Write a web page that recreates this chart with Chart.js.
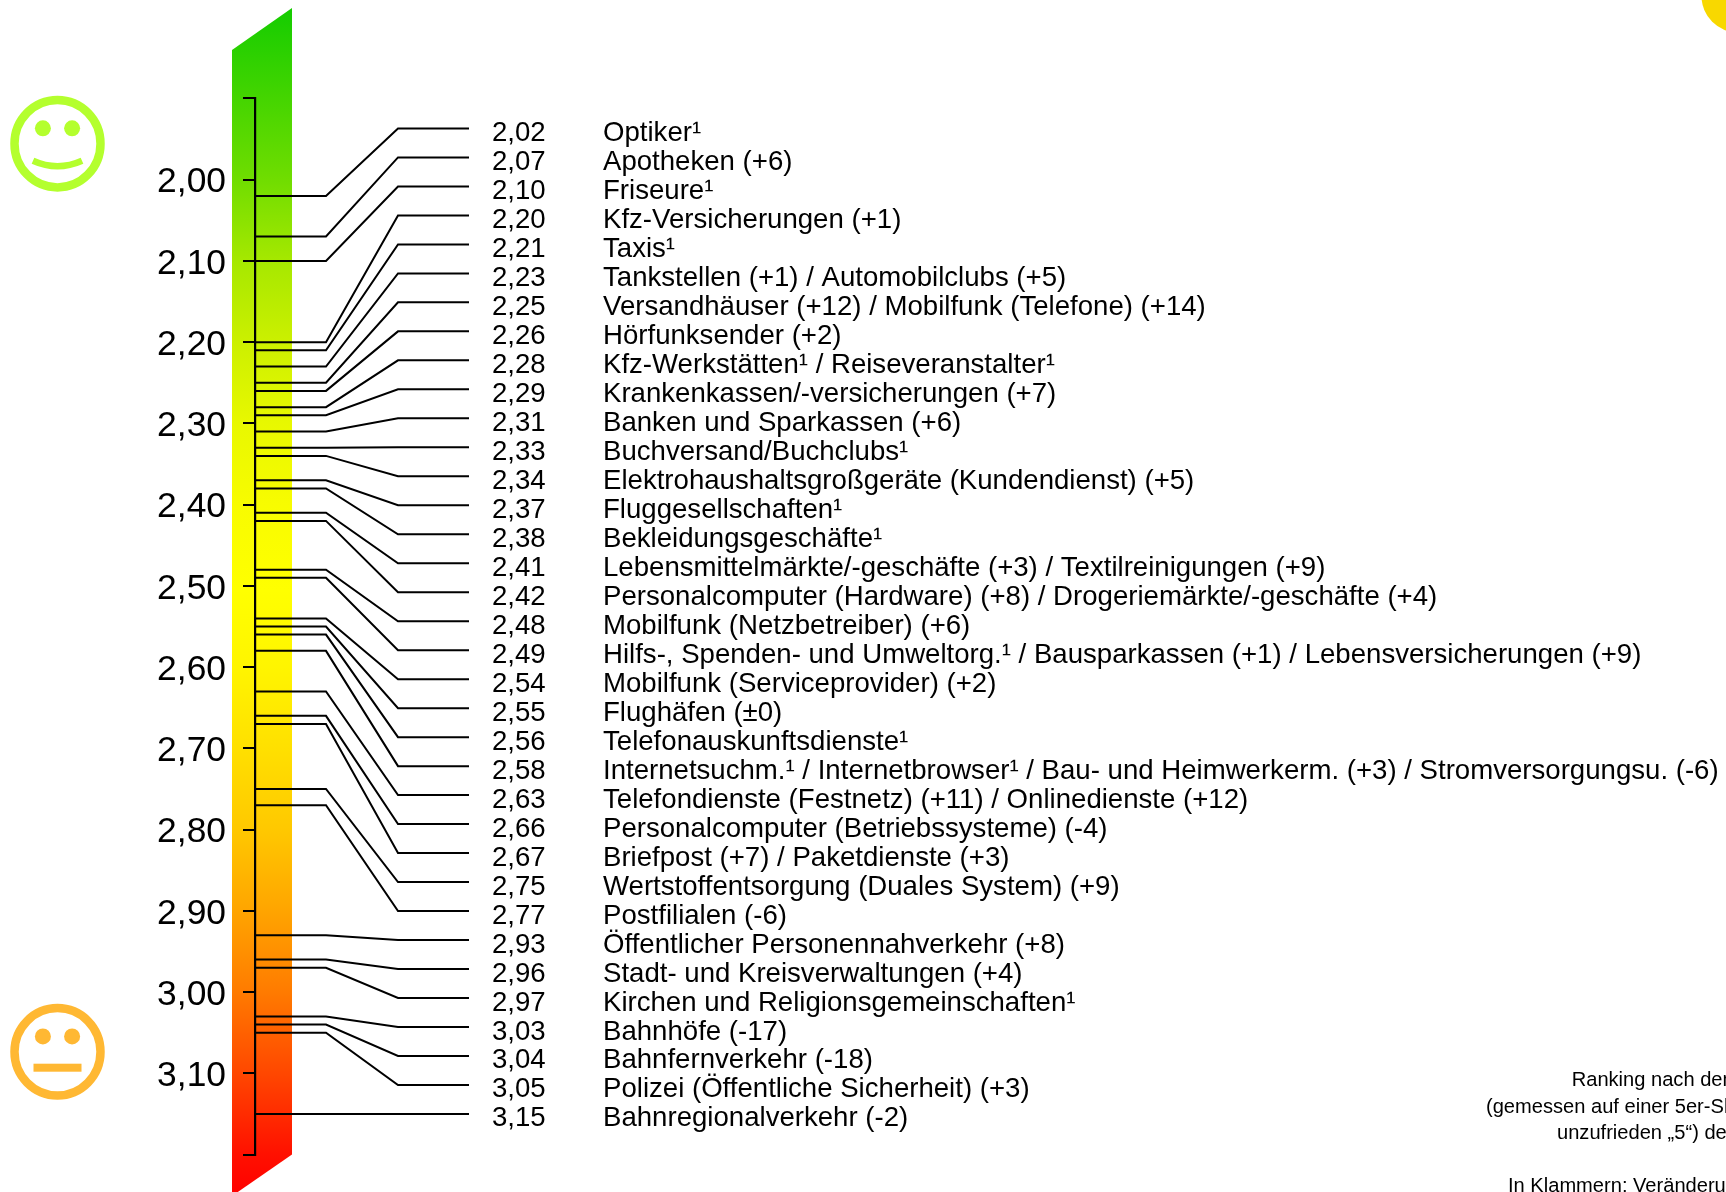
<!DOCTYPE html>
<html lang="de">
<head>
<meta charset="utf-8">
<style>
html,body{margin:0;padding:0;background:#fff;overflow:hidden}
#wrap{position:absolute;left:0;top:0;width:1726px;height:1192px}
</style>
<script src="https://cdn.jsdelivr.net/npm/chart.js@4/dist/chart.umd.js"></script>
</head>
<body>
<div id="wrap"><canvas id="c" width="1726" height="1192"></canvas></div>
<script>
const scores = [2.02,2.07,2.10,2.20,2.21,2.23,2.25,2.26,2.28,2.29,2.31,2.33,2.34,2.37,2.38,2.41,2.42,2.48,2.49,2.54,2.55,2.56,2.58,2.63,2.66,2.67,2.75,2.77,2.93,2.96,2.97,3.03,3.04,3.05,3.15];
const categories = [
"Optiker¹","Apotheken (+6)","Friseure¹","Kfz-Versicherungen (+1)","Taxis¹",
"Tankstellen (+1) / Automobilclubs (+5)","Versandhäuser (+12) / Mobilfunk (Telefone) (+14)","Hörfunksender (+2)",
"Kfz-Werkstätten¹ / Reiseveranstalter¹","Krankenkassen/-versicherungen (+7)","Banken und Sparkassen (+6)","Buchversand/Buchclubs¹",
"Elektrohaushaltsgroßgeräte (Kundendienst) (+5)","Fluggesellschaften¹","Bekleidungsgeschäfte¹",
"Lebensmittelmärkte/-geschäfte (+3) / Textilreinigungen (+9)","Personalcomputer (Hardware) (+8) / Drogeriemärkte/-geschäfte (+4)",
"Mobilfunk (Netzbetreiber) (+6)","Hilfs-, Spenden- und Umweltorg.¹ / Bausparkassen (+1) / Lebensversicherungen (+9)",
"Mobilfunk (Serviceprovider) (+2)","Flughäfen (±0)","Telefonauskunftsdienste¹",
"Internetsuchm.¹ / Internetbrowser¹ / Bau- und Heimwerkerm. (+3) / Stromversorgungsu. (-6)",
"Telefondienste (Festnetz) (+11) / Onlinedienste (+12)","Personalcomputer (Betriebssysteme) (-4)","Briefpost (+7) / Paketdienste (+3)",
"Wertstoffentsorgung (Duales System) (+9)","Postfilialen (-6)","Öffentlicher Personennahverkehr (+8)","Stadt- und Kreisverwaltungen (+4)",
"Kirchen und Religionsgemeinschaften¹","Bahnhöfe (-17)","Bahnfernverkehr (-18)","Polizei (Öffentliche Sicherheit) (+3)","Bahnregionalverkehr (-2)"
];
const axisTicks = [1.9,2.0,2.1,2.2,2.3,2.4,2.5,2.6,2.7,2.8,2.9,3.0,3.1,3.2];
const labelledTicks = [2.0,2.1,2.2,2.3,2.4,2.5,2.6,2.7,2.8,2.9,3.0,3.1];
const noteLines = ["Ranking nach dem","(gemessen auf einer 5er-Skala","unzufrieden „5“) der","","In Klammern: Veränderung"];

const yMin = 1.9, yMax = 3.2;
const slotFirst = 1.9370, slotStep = 0.035676;      // label rows, in score units
const connectorStops = [255,326,398,469];            // x scale units
const fmt = v => v.toFixed(2).replace('.',',');
const slotY = i => slotFirst + i*slotStep;

const datasets = scores.map((v,i)=>({
  data:[{x:connectorStops[0],y:v},{x:connectorStops[1],y:v},{x:connectorStops[2],y:slotY(i)},{x:connectorStops[3],y:slotY(i)}],
  borderColor:'#000',borderWidth:2,pointRadius:0,tension:0,fill:false,clip:false,borderJoinStyle:'miter'
}));

const FONT='"Liberation Sans",Arial,sans-serif';
const bandStops=[[8,'#14cc00'],[180,'#70dd00'],[261,'#a6e800'],[343,'#ccf000'],[423,'#e8f800'],[505,'#f8fc00'],[590,'#ffff00'],[667,'#fff500'],[748,'#ffe000'],[830,'#ffc800'],[910,'#ffa500'],[990,'#ff7c00'],[1072,'#ff4800'],[1155,'#ff1000'],[1196,'#ff0000']];

function drawFace(ctx,cx,cy,color,happy){
  ctx.save();
  ctx.strokeStyle=color;ctx.fillStyle=color;ctx.lineWidth=8.5;
  ctx.beginPath();ctx.ellipse(cx,cy,43,43.7,0,0,Math.PI*2);ctx.stroke();
  [-14.6,14.6].forEach(dx=>{ctx.beginPath();ctx.ellipse(cx+dx,cy-15.4,8,8,0,0,Math.PI*2);ctx.fill();});
  if(happy){
    ctx.lineWidth=6.5;ctx.beginPath();ctx.moveTo(cx-24.5,cy+17);ctx.quadraticCurveTo(cx,cy+28,cx+24.5,cy+17);ctx.stroke();
  }else{
    ctx.fillRect(cx-24,cy+11.9,48,8);
  }
  ctx.restore();
}

const decor = {
  id:'decor',
  beforeDraw(chart){
    const {ctx,scales:{x,y}}=chart;
    ctx.save();
    ctx.fillStyle='#fff';ctx.fillRect(0,0,chart.width,chart.height);
    const L=x.getPixelForValue(232),R=x.getPixelForValue(292);
    const g=ctx.createLinearGradient(0,8,0,1196);
    bandStops.forEach(([py,c])=>g.addColorStop((py-8)/1188,c));
    ctx.fillStyle=g;
    ctx.beginPath();
    ctx.moveTo(L,50);ctx.lineTo(R,8);ctx.lineTo(R,y.getPixelForValue(yMax));ctx.lineTo(L,1196);ctx.closePath();ctx.fill();
    ctx.restore();
    drawFace(ctx,57.5,143.7,'#b4ff2e',true);
    drawFace(ctx,57.5,1051.8,'#ffb833',false);
    ctx.save();ctx.fillStyle='#f8d800';ctx.beginPath();ctx.arc(1738,-4,36.5,0,Math.PI*2);ctx.fill();ctx.restore();
  },
  afterDraw(chart){
    const {ctx,scales:{y}}=chart;
    ctx.save();
    ctx.fillStyle='#000';ctx.textBaseline='alphabetic';ctx.textAlign='left';
    ctx.font='27.6px '+FONT;
    scores.forEach((v,i)=>{
      const py=y.getPixelForValue(slotY(i))+12.5;
      ctx.fillText(fmt(v),492,py);
      ctx.fillText(categories[i],603,py);
    });
    ctx.font='20.1px '+FONT;
    const noteX=[1571.7,1486,1557,0,1508];
    noteLines.forEach((t,i)=>{ if(t) ctx.fillText(t,noteX[i],1086+i*26.6); });
    ctx.restore();
  }
};

new Chart(document.getElementById('c'),{
  type:'line',
  data:{datasets},
  options:{
    responsive:false,animation:false,devicePixelRatio:1,
    layout:{padding:{top:98.4,bottom:37.4,left:0,right:0}},
    plugins:{legend:{display:false},tooltip:{enabled:false},title:{display:false}},
    scales:{
      x:{type:'linear',min:255,max:1726,display:false},
      y:{
        type:'linear',min:yMin,max:yMax,reverse:true,
        afterFit(s){s.width=255;},
        afterBuildTicks(s){s.ticks=axisTicks.map(value=>({value}));},
        border:{display:true,color:'#000',width:2.2},
        grid:{display:true,drawOnChartArea:false,drawTicks:true,tickLength:12,color:'#000',lineWidth:2},
        ticks:{
          autoSkip:false,padding:17,color:'#000',font:{family:FONT,size:35.4,lineHeight:'6px'},
          callback(v){return labelledTicks.some(t=>Math.abs(t-v)<1e-6)?['',fmt(v)]:'';}
        }
      }
    }
  },
  plugins:[decor]
});
</script>
</body>
</html>
